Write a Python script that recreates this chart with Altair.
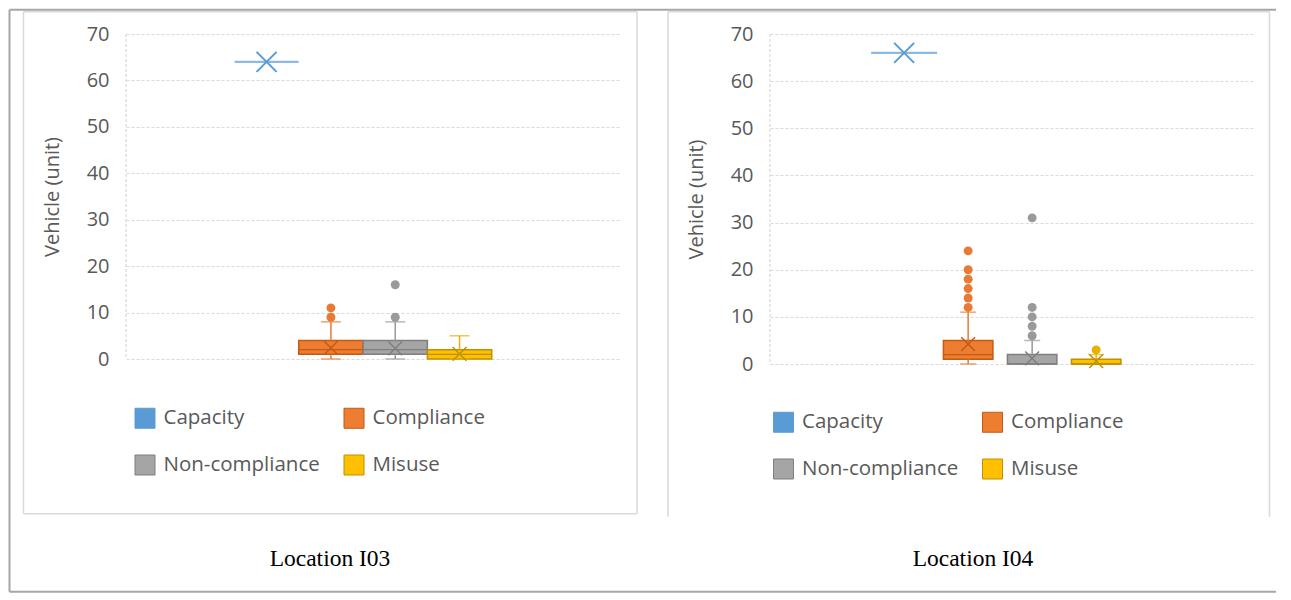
import altair as alt
import pandas as pd

# ---------------- data ----------------
SERIES = ["Capacity", "Compliance", "Non-compliance", "Misuse"]
CAPTIONS = ["Location I03", "Location I04"]
Y_TITLE = "Vehicle (unit)"
Y_TICKS = [0, 10, 20, 30, 40, 50, 60, 70]

# Location I03 box statistics (per series, same order as SERIES)
i03_low = [64, 0, 0, 0]
i03_q1 = [64, 1, 1, 0]
i03_median = [64, 2, 2, 1]
i03_q3 = [64, 4, 4, 2]
i03_high = [64, 8, 8, 5]
i03_mean = [64, 2.4, 2.3, 1.1]
i03_out_series = ["Compliance", "Compliance", "Non-compliance", "Non-compliance"]
i03_out_value = [9, 11, 9, 16]

# Location I04 box statistics
i04_low = [66, 0, 0, 0]
i04_q1 = [66, 1, 0, 0]
i04_median = [66, 2, 0, 0]
i04_q3 = [66, 5, 2, 1]
i04_high = [66, 11, 5, 2]
i04_mean = [66, 4.2, 1.2, 0.6]
i04_out_series = ["Compliance"] * 6 + ["Non-compliance"] * 5 + ["Misuse"]
i04_out_value = [12, 14, 16, 18, 20, 24, 6, 8, 10, 12, 31, 3]

# ---------------- style ----------------
FILL = ["#5B9BD5", "#ED7D31", "#A5A5A5", "#FFC000"]
EDGE = ["#5B9BD5", "#C55A11", "#7F7F7F", "#BF9000"]
LINE = ["#5B9BD5", "#E97A33", "#9A9A9A", "#E8B000"]
TXT = "#595959"
FONT = "Open Sans"
X_PATH = "M-1,-1L1,1M-1,1L1,-1"


def stats_frame(group, low, q1, med, q3, high, mean):
    df = pd.DataFrame({"series": SERIES, "low": low, "q1": q1, "median": med,
                       "q3": q3, "high": high, "mean": mean})
    df["group"] = group
    df["edge"] = df["series"]
    df["line"] = df["series"]
    return df


def out_frame(group, series, values):
    df = pd.DataFrame({"series": series, "value": values})
    df["group"] = group
    df["line"] = df["series"]
    return df


def panel(stats, outliers, W, H, pad_outer, align, pin, cap, cap_line, caption, cap_x, legend, deco):
    X = alt.X("group:N", axis=None,
              scale=alt.Scale(paddingInner=0, paddingOuter=pad_outer, align=align))
    XO = alt.XOffset("series:N", sort=SERIES,
                     scale=alt.Scale(domain=SERIES, paddingInner=pin, paddingOuter=0))
    ys = alt.Scale(domain=[0, 70], nice=False, zero=True)
    yax = alt.Axis(values=Y_TICKS, title=Y_TITLE, grid=True)

    def Y(f):
        return alt.Y(f, type="quantitative", scale=ys, axis=yax)

    fill = alt.Fill("series:N", scale=alt.Scale(domain=SERIES, range=FILL), legend=legend)
    stroke = alt.Stroke("edge:N", scale=alt.Scale(domain=SERIES, range=EDGE), legend=None)
    color = alt.Color("line:N", scale=alt.Scale(domain=SERIES, range=LINE), legend=None)

    boxes = stats[stats.series != "Capacity"]
    capdf = stats[stats.series == "Capacity"]
    bb = alt.Chart(boxes)
    cc = alt.Chart(capdf)

    one = pd.DataFrame({"k": [0]})
    layers = []
    for (x1, x2, y1, y2, col, sw) in deco:
        layers.append(alt.Chart(one).mark_rule(color=col, strokeWidth=sw).encode(
            x=alt.value(x1), x2=alt.value(x2), y=alt.value(y1), y2=alt.value(y2)))
    layers.append(alt.Chart(one).mark_rule(color="#D0D0D0", strokeDash=[3, 2], strokeWidth=1).encode(
        x=alt.value(0), y=alt.value(0), y2=alt.value(H)))

    layers += [
        alt.Chart(stats).mark_rect(strokeWidth=1.5).encode(
            x=X, xOffset=XO, y=Y("q1"), y2="q3", fill=fill, stroke=stroke,
            opacity=alt.condition("datum.series == 'Capacity'", alt.value(0), alt.value(1))),
        bb.mark_rule(strokeWidth=1.5).encode(x=X, xOffset=XO, y=Y("low"), y2="q1", color=color),
        bb.mark_rule(strokeWidth=1.5).encode(x=X, xOffset=XO, y=Y("q3"), y2="high", color=color),
        bb.mark_tick(orient="horizontal", size=cap, thickness=1.5).encode(
            x=X, xOffset=XO, y=Y("low"), color=color),
        bb.mark_tick(orient="horizontal", size=cap, thickness=1.5).encode(
            x=X, xOffset=XO, y=Y("high"), color=color),
        bb.mark_rect(filled=False, strokeWidth=1.3).encode(
            x=X, xOffset=XO, y=Y("median"), y2="median", stroke=stroke),
        alt.Chart(outliers).mark_circle(size=80, opacity=1).encode(
            x=X, xOffset=XO, y=Y("value"), color=color),
        bb.mark_point(shape=X_PATH, size=190, filled=False, strokeWidth=1.5, opacity=1).encode(
            x=X, xOffset=XO, y=Y("mean"), stroke=stroke),
        cc.mark_tick(orient="horizontal", size=cap_line, thickness=2.2).encode(
            x=X, xOffset=XO, y=Y("median"), color=color),
        cc.mark_point(shape=X_PATH, size=400, filled=False, strokeWidth=2, opacity=1).encode(
            x=X, xOffset=XO, y=Y("mean"), stroke=stroke),
        alt.Chart(pd.DataFrame({"caption": [caption]})).mark_text(
            font="Liberation Serif", fontSize=23.5, color="#000000", baseline="middle").encode(
            x=alt.value(cap_x), y=alt.value(524.7), text="caption:N"),
    ]
    return alt.layer(*layers).properties(width=W, height=H)


s03 = stats_frame("I03", i03_low, i03_q1, i03_median, i03_q3, i03_high, i03_mean)
o03 = out_frame("I03", i03_out_series, i03_out_value)
s04 = stats_frame("I04", i04_low, i04_q1, i04_median, i04_q3, i04_high, i04_mean)
o04 = out_frame("I04", i04_out_series, i04_out_value)

OUT = "#A6A6A6"
FR = "#D9D9D9"
deco_left = [
    (-116.5, 1150, -24.3, -24.3, OUT, 2),
    (-116.5, -116.5, -24.3, 557.7, OUT, 2),
    (-116.5, 1150, 557.7, 557.7, OUT, 2),
    (-102.5, 511, -22.3, -22.3, FR, 1.5),
    (-102.5, -102.5, -22.3, 479.7, FR, 1.5),
    (511, 511, -22.3, 479.7, FR, 1.5),
    (-102.5, 511, 479.7, 479.7, FR, 1.5),
]
deco_right = [
    (-102, 499.5, -22.3, -22.3, FR, 1.5),
    (-102, -102, -22.3, 482.7, FR, 1.5),
    (499.5, 499.5, -22.3, 482.7, FR, 1.5),
]

leg_left = alt.Legend(title=None, orient="none", legendX=8.5, legendY=373.5, columns=2,
                      direction="horizontal")
leg_right = alt.Legend(title=None, orient="none", legendX=3, legendY=377.5, columns=2,
                       direction="horizontal")

left = panel(s03, o03, 493, 325, 0.458, 0.46, 0, 20, 64, CAPTIONS[0], 204, leg_left, deco_left)
right = panel(s04, o04, 483, 330, 0.5, 0.453, 0.227, 16, 66, CAPTIONS[1], 203, leg_right, deco_right)

chart = alt.hconcat(left, right, spacing=151, bounds="flush").resolve_scale(
    x="independent", y="independent", xOffset="independent",
    fill="independent", stroke="independent", color="independent", opacity="independent"
).resolve_legend(fill="independent").properties(padding=0).configure_view(stroke=None).configure_axis(
    labelFont=FONT, labelFontSize=20, labelColor=TXT, titleFont=FONT, titleFontSize=20,
    titleFontWeight="normal", titleColor=TXT, domain=False, ticks=False, labelPadding=17,
    titlePadding=24, gridColor="#D9D9D9", gridDash=[3, 2], gridWidth=1
).configure_legend(
    labelFont=FONT, labelFontSize=20.5, labelColor=TXT, symbolType="square", symbolSize=400,
    symbolStrokeWidth=1, symbolStrokeColor="#888888", symbolOpacity=1,
    rowPadding=22, columnPadding=21, labelOffset=8
)

chart.save("out.html", embed_options={"renderer": "svg", "actions": False})
